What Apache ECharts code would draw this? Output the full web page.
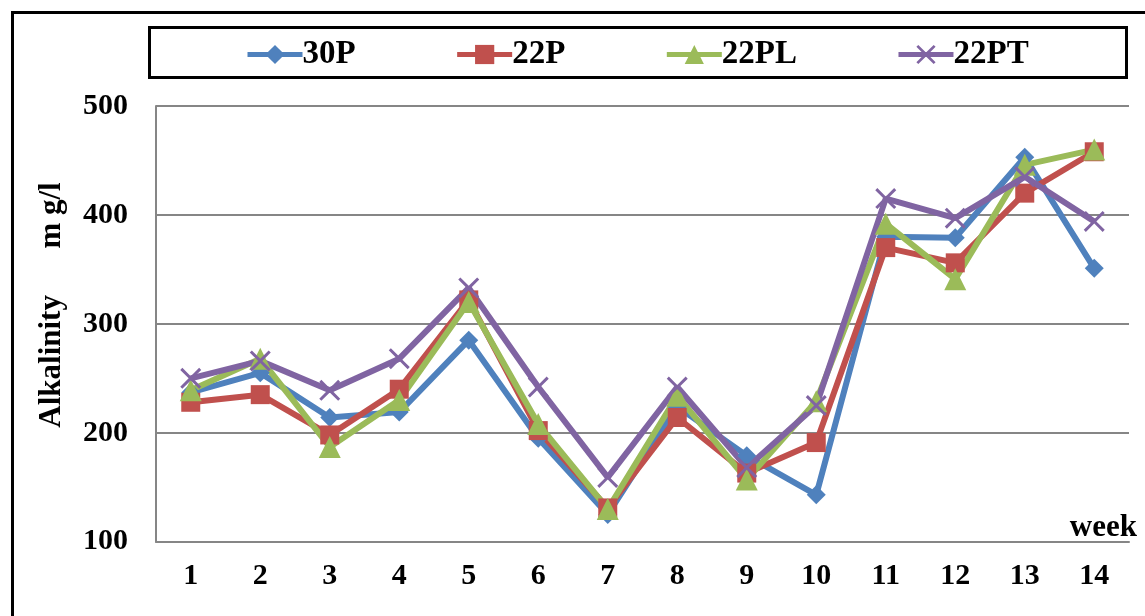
<!DOCTYPE html>
<html>
<head>
<meta charset="utf-8">
<script src="https://cdn.jsdelivr.net/npm/echarts@6/dist/echarts.min.js"></script>
<style>
html,body{margin:0;padding:0;background:#fff;}
#chart{width:1145px;height:616px;}
</style>
</head>
<body>
<div id="chart"></div>
<script>
const weeks = ['1','2','3','4','5','6','7','8','9','10','11','12','13','14'];
const s30P  = [237, 255, 214, 219, 285, 195, 125, 224, 179, 143, 380, 379, 453, 351];
const s22P  = [228, 235, 198, 240, 322, 202, 131, 214, 163, 191, 370, 356, 420, 458];
const s22PL = [239, 268, 187, 230, 320, 208, 130, 234, 157, 229, 392, 341, 446, 460];
const s22PT = [250, 266, 239, 268, 333, 242, 159, 242, 168, 225, 415, 397, 435, 394];
const seriesNames = ['30P', '22P', '22PL', '22PT'];
const yTicks = [100, 200, 300, 400, 500];

const FONT = "'Liberation Serif', 'Times New Roman', serif";
const xPath = 'path://M2,0 L10,8 L18,0 L20,2 L12,10 L20,18 L18,20 L10,12 L2,20 L0,18 L8,10 L0,2 Z';

function mk(name, data, color, symbol, size) {
  return {
    name: name, type: 'line', data: data,
    symbol: symbol, symbolSize: size,
    showAllSymbol: true,
    lineStyle: { color: color, width: 6 },
    itemStyle: { color: color },
    emphasis: { disabled: true },
    animation: false
  };
}

const chart = echarts.init(document.getElementById('chart'), null, { renderer: 'canvas' });
chart.setOption({
  backgroundColor: '#fff',
  animation: false,
  grid: { left: 156, right: 16, top: 106, bottom: 74.3, containLabel: false, outerBoundsMode: 'none' },
  legend: {
    data: seriesNames,
    left: 240, top: 33,
    itemWidth: 55, itemHeight: 24, itemGap: 99,
    lineStyle: { width: 5 },
    textStyle: { fontFamily: FONT, fontWeight: 'bold', fontSize: 33, color: '#000', padding: [0,0,0,-5] },
    selectedMode: false
  },
  xAxis: {
    type: 'category', data: weeks, boundaryGap: true,
    axisLine: { lineStyle: { color: '#868686', width: 2 } },
    axisTick: { show: false },
    axisLabel: { fontFamily: FONT, fontWeight: 'bold', fontSize: 30, color: '#000', margin: 20 },
    splitLine: { show: false },
    name: 'week', nameLocation: 'end', nameGap: 8,
    nameTextStyle: { fontFamily: FONT, fontWeight: 'bold', fontSize: 31, color: '#000', align: 'right', verticalAlign: 'bottom', padding: [0,0,-2,0] }
  },
  yAxis: {
    type: 'value', min: yTicks[0], max: yTicks[yTicks.length-1], interval: 100,
    axisLine: { show: true, lineStyle: { color: '#868686', width: 2 } },
    axisTick: { show: false },
    axisLabel: { fontFamily: FONT, fontWeight: 'bold', fontSize: 30, color: '#000', margin: 28 },
    splitLine: { show: true, lineStyle: { color: '#868686', width: 2 } }
  },
  graphic: [
    { type: 'rect', silent: true, shape: { x: 12.5, y: 12.5, width: 1160, height: 640 }, style: { fill: 'none', stroke: '#000', lineWidth: 3 } },
    { type: 'rect', silent: true, shape: { x: 149.5, y: 27.5, width: 977, height: 50 }, style: { fill: 'none', stroke: '#000', lineWidth: 3 } },
    { type: 'text', silent: true, x: 52, y: 305, rotation: Math.PI / 2,
      style: { text: 'Alkalinity      m g/l', fontFamily: FONT, fontWeight: 'bold', fontSize: 31, fill: '#000', textAlign: 'center', textVerticalAlign: 'middle' } }
  ],
  series: [
    mk(seriesNames[0], s30P, '#4F81BD', 'diamond', 19),
    mk(seriesNames[1], s22P, '#C0504D', 'rect', 19),
    mk(seriesNames[2], s22PL, '#9BBB59', 'triangle', 22),
    mk(seriesNames[3], s22PT, '#8064A2', xPath, 21)
  ]
});
</script>
</body>
</html>
